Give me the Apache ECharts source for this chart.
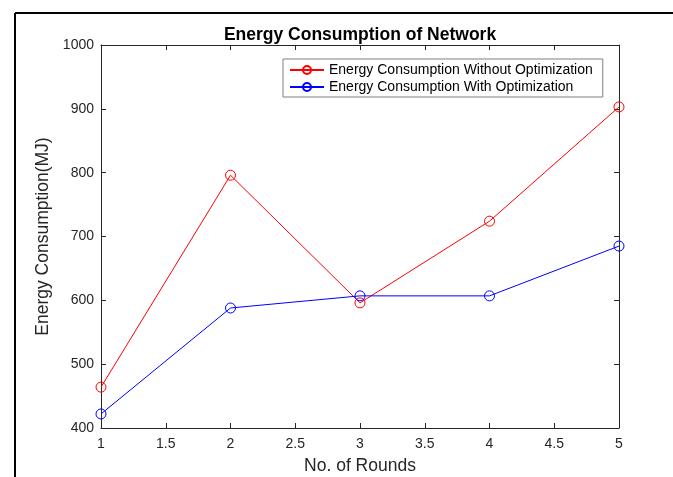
<!DOCTYPE html>
<html><head><meta charset="utf-8">
<script src="https://cdn.jsdelivr.net/npm/echarts@6/dist/echarts.min.js"></script>
<style>html,body{margin:0;padding:0;background:#fff}#c{width:673px;height:477px}</style>
</head><body><div id="c"></div>
<script>
var rounds = [1, 2, 3, 4, 5];
var withoutOpt = [464, 796, 596, 724, 903];
var withOpt = [422, 588, 607, 607, 685];
var seriesNames = ['Energy Consumption Without Optimization', 'Energy Consumption With Optimization'];
var titleText = 'Energy Consumption of Network';
var xName = 'No. of Rounds';
var yName = 'Energy Consumption(MJ)';

var font = 'Liberation Sans, Arial, sans-serif';
var axisCol = '#262626';
function pairs(v){ return rounds.map(function(r,i){ return [r, v[i]]; }); }
var chart = echarts.init(document.getElementById('c'));
var baseAxisLine = {show:true, lineStyle:{color:axisCol, width:1}};
chart.setOption({
  animation:false,
  backgroundColor:'#fff',
  title:{text:titleText, left:355, textAlign:'center', top:21, textStyle:{fontFamily:font, fontSize:17.5, fontWeight:'bold', color:'#000'}},
  grid:{left:101, right:54, top:45, bottom:49, containLabel:false, outerBoundsMode:'none'},
  legend:{
    orient:'vertical', left:283, top:59,
    backgroundColor:'#fff', borderColor:'#808080', borderWidth:1, borderRadius:0,
    padding:[4,10,3,6], itemGap:3, itemWidth:34, itemHeight:10,
    textStyle:{fontFamily:font, fontSize:14, color:'#000'},
    data:seriesNames
  },
  xAxis:[{
    type:'value', min:1, max:5, interval:0.5, position:'bottom',
    name:xName, nameLocation:'middle', nameGap:29, nameTextStyle:{fontFamily:font, fontSize:17.5, color:axisCol},
    axisLine:baseAxisLine, axisTick:{inside:true, length:5, lineStyle:{color:axisCol}},
    axisLabel:{fontFamily:font, fontSize:14, color:axisCol, margin:9, formatter:function(v){return String(v);}}, splitLine:{show:false}
  },{
    type:'value', min:1, max:5, interval:0.5, position:'top',
    axisLine:baseAxisLine, axisTick:{inside:true, length:5, lineStyle:{color:axisCol}},
    axisLabel:{show:false}, splitLine:{show:false}
  }],
  yAxis:[{
    type:'value', min:400, max:1000, interval:100, position:'left',
    name:yName, nameLocation:'middle', nameGap:46, nameTextStyle:{fontFamily:font, fontSize:17.5, color:axisCol},
    axisLine:baseAxisLine, axisTick:{inside:true, length:5, lineStyle:{color:axisCol}},
    axisLabel:{fontFamily:font, fontSize:14, color:axisCol, margin:7, formatter:function(v){return String(v);}}, splitLine:{show:false}
  },{
    type:'value', min:400, max:1000, interval:100, position:'right',
    axisLine:baseAxisLine, axisTick:{inside:true, length:5, lineStyle:{color:axisCol}},
    axisLabel:{show:false}, splitLine:{show:false}
  }],
  graphic:[
    {type:'line', shape:{x1:15, y1:13, x2:673, y2:13}, style:{stroke:'#000', lineWidth:2}},
    {type:'line', shape:{x1:15, y1:13, x2:15, y2:477}, style:{stroke:'#000', lineWidth:2}}
  ],
  series:[
    {name:seriesNames[0], type:'line', data:pairs(withoutOpt), symbol:'circle', symbolSize:10,
     lineStyle:{color:'#ff0000', width:1}, itemStyle:{color:'rgba(255,255,255,0)', borderColor:'#ff0000', borderWidth:1}, z:2},
    {name:seriesNames[1], type:'line', data:pairs(withOpt), symbol:'circle', symbolSize:10,
     lineStyle:{color:'#0000ff', width:1}, itemStyle:{color:'rgba(255,255,255,0)', borderColor:'#0000ff', borderWidth:1}, z:3}
  ]
});
</script></body></html>
